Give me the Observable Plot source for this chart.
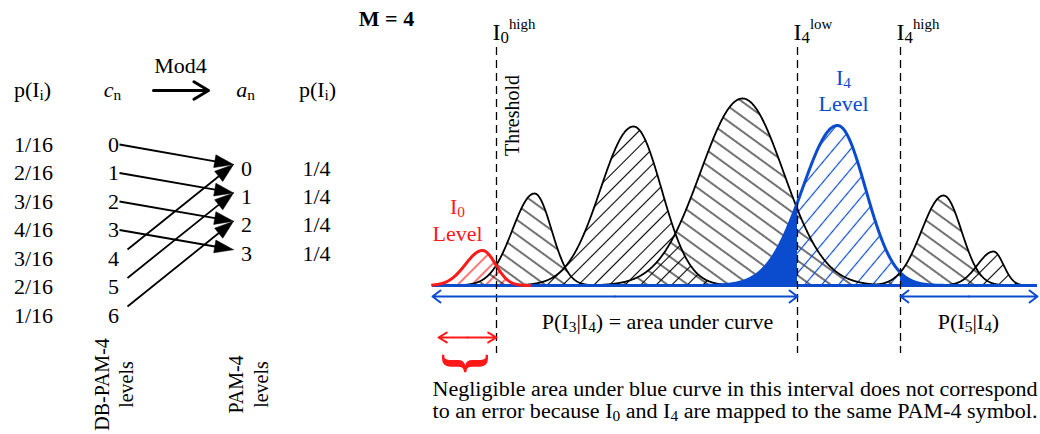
<!DOCTYPE html>
<html>
<head>
<meta charset="utf-8">
<script src="https://cdn.jsdelivr.net/npm/d3@7"></script>
<script src="https://cdn.jsdelivr.net/npm/@observablehq/plot@0.6"></script>
<style>
html,body{margin:0;padding:0;background:#fff;}
#chart{width:1040px;height:434px;overflow:hidden;}
#chart svg text{font-family:"Liberation Serif","Times New Roman",serif;}
</style>
</head>
<body>
<div id="chart"></div>
<script>
// ---------------- data ----------------
const dbLevels = [0, 1, 2, 3, 4, 5, 6];
const dbProb = ["1/16", "2/16", "3/16", "4/16", "3/16", "2/16", "1/16"];
const pamLevels = [0, 1, 2, 3];
const pamProb = ["1/4", "1/4", "1/4", "1/4"];
const levelNames = ["I0", "I1", "I2", "I3", "I4", "I5", "I6"];
// received-signal distributions on the signal axis (split Gaussians)
const levelMean = [482, 534, 633, 742, 837, 943, 993];
const levelPeak = [35, 92, 159, 187, 160, 90, 34];
const sigmaLeft = [17, 22, 33, 42, 35, 22, 16];
const sigmaRight = [13, 17, 28, 41, 28, 18, 10];
const thresholdNames = ["I_{0}^{high}", "I_{4}^{low}", "I_{4}^{high}"];
const thresholdPos = [496, 797, 900];
const captionLines = [
  "Negligible area under blue curve in this interval does not correspond",
  "to an error because I_{0} and I_{4} are mapped to the same PAM-4 symbol."
];

// ---------------- layout / style ----------------
const BLUE = "#0b4ccf", RED = "#ff1a1a";
const FONT = "Liberation Serif";
const X0 = 432, X1 = 1037, BASE = 285;
const rowC = i => 144 + 28.5 * i;
const rowA = j => 168 + 28.4 * j;

const dens = (k, x) => {
  const s = x < levelMean[k] ? sigmaLeft[k] : sigmaRight[k];
  return levelPeak[k] * Math.exp(-0.5 * ((x - levelMean[k]) / s) ** 2);
};
const samples = levelNames.flatMap((n, k) => {
  const lo = Math.max(X0, Math.round(levelMean[k] - 3.8 * sigmaLeft[k]));
  const hi = Math.min(X1, Math.round(levelMean[k] + 3.8 * sigmaRight[k]));
  return d3.range(lo, hi + 0.25, 0.5).map(x => ({k, x, h: dens(k, x)}));
});
const patFor = k => k === 0 ? "hRed" : k === 4 ? "hBlue" : (k % 2 ? "hBack" : "hFwd");

const hatchMarks = levelNames.map((n, k) =>
  Plot.areaY(samples.filter(d => d.k === k), {x: "x", y1: BASE, y2: d => BASE - d.h, fill: `url(#${patFor(k)})`})
);

const blueSpans = [[X0, thresholdPos[1]], [thresholdPos[2], X1]];
const blueArrowParts = blueSpans.flatMap(([a, b]) => [{from: (a + b) / 2, to: a}, {from: (a + b) / 2, to: b}]);
const redSpan = [438, thresholdPos[0]];
const redArrowParts = [{from: (redSpan[0] + redSpan[1]) / 2, to: redSpan[0]}, {from: (redSpan[0] + redSpan[1]) / 2, to: redSpan[1]}];

// mapping arrows c_n -> a_n = c_n mod 4, with filled triangular heads
const mapArrows = dbLevels.map(d => {
  const x1 = d < 4 ? 119 : 127, y1 = d < 4 ? rowC(d) : rowC(d) - 9;
  const x2 = 233, y2 = rowA(d % 4) - 4;
  return {d, x1, y1, x2, y2};
});
const HL = 19, HW = 6.5;
const mapHeads = mapArrows.flatMap(a => {
  const L = Math.hypot(a.x2 - a.x1, a.y2 - a.y1), ux = (a.x2 - a.x1) / L, uy = (a.y2 - a.y1) / L;
  const bx = a.x2 - ux * HL, by = a.y2 - uy * HL;
  return [
    {d: a.d, x: a.x2, y: a.y2},
    {d: a.d, x: bx - uy * HW, y: by + ux * HW},
    {d: a.d, x: bx + uy * HW, y: by - ux * HW},
    {d: a.d, x: a.x2, y: a.y2}
  ];
});

const tx = (data, o) => Plot.text(data, {text: d => d, fontFamily: FONT, ...o});

const svg = Plot.plot({
  width: 1040, height: 434, margin: 0,
  x: {domain: [0, 1040], range: [0, 1040], axis: null},
  y: {domain: [0, 434], range: [0, 434], axis: null},
  style: "font-family: 'Liberation Serif', serif; background: white; color: black;",
  marks: [
    ...hatchMarks,
    Plot.areaY(samples.filter(d => d.k === 4 && d.x <= thresholdPos[1]), {x: "x", y1: BASE, y2: d => BASE - d.h, fill: BLUE}),
    Plot.areaY(samples.filter(d => d.k === 4 && d.x >= thresholdPos[2]), {x: "x", y1: BASE, y2: d => BASE - d.h, fill: BLUE}),
    Plot.line(samples.filter(d => d.k !== 0 && d.k !== 4), {x: "x", y: d => BASE - d.h, z: "k", stroke: "black", strokeWidth: 1.8}),
    Plot.line(samples.filter(d => d.k === 4), {x: "x", y: d => BASE - d.h, stroke: BLUE, strokeWidth: 3}),
    Plot.ruleY([BASE], {x1: X0, x2: X1, stroke: BLUE, strokeWidth: 3}),
    Plot.line(samples.filter(d => d.k === 0 && d.x < 530), {x: "x", y: d => BASE - d.h, stroke: RED, strokeWidth: 3}),
    Plot.ruleX(thresholdPos, {y1: 47, y2: 353, stroke: "black", strokeWidth: 1.3, strokeDasharray: "8,5"}),
    Plot.arrow(blueArrowParts, {x1: "from", x2: "to", y1: 296, y2: 296, stroke: BLUE, strokeWidth: 2, headLength: 7.5, headAngle: 74}),
    Plot.arrow(redArrowParts, {x1: "from", x2: "to", y1: 337, y2: 337, stroke: RED, strokeWidth: 2, headLength: 9, headAngle: 62}),
    tx(["}"], {x: 467, y: 363, rotate: 90, fontSize: 54, fontWeight: "bold", fill: RED}),
    // labels on the right
    tx(thresholdNames, {x: (d, i) => thresholdPos[i] - 4, y: 39, textAnchor: "start", lineAnchor: "bottom", fontSize: 24}),
    tx(["Threshold"], {x: 518, y: 115, rotate: -90, lineAnchor: "bottom", fontSize: 20}),
    tx(["M = 4"], {x: 386, y: 25, lineAnchor: "bottom", fontSize: 22, fontWeight: "bold"}),
    tx(["I_{0}", "Level"], {x: 457, y: (d, i) => [213, 240][i], lineAnchor: "bottom", fontSize: 22, fill: RED}),
    tx(["I_{4}", "Level"], {x: 843, y: (d, i) => [84, 110][i], lineAnchor: "bottom", fontSize: 22, fill: BLUE}),
    tx(["P(I_{3}|I_{4}) = area under curve"], {x: 657, y: 328, lineAnchor: "bottom", fontSize: 22}),
    tx(["P(I_{5}|I_{4})"], {x: 968, y: 328, lineAnchor: "bottom", fontSize: 22}),
    tx(captionLines, {x: X0, y: (d, i) => 395 + 22 * i, textAnchor: "start", lineAnchor: "bottom", fontSize: 20}),
    // left mapping table
    tx(["p(I_{i})"], {x: 32, y: 96, lineAnchor: "bottom", fontSize: 22}),
    tx(["c_{n}"], {x: 112, y: 96, lineAnchor: "bottom", fontSize: 22, fontStyle: "italic"}),
    tx(["Mod4"], {x: 180, y: 72, lineAnchor: "bottom", fontSize: 22}),
    Plot.arrow([0], {x1: 153, x2: 208, y1: 90, y2: 90, stroke: "black", strokeWidth: 3, headLength: 8.5, headAngle: 62}),
    tx(["a_{n}"], {x: 245, y: 96, lineAnchor: "bottom", fontSize: 22, fontStyle: "italic"}),
    tx(["p(I_{i})"], {x: 317, y: 96, lineAnchor: "bottom", fontSize: 22}),
    tx(dbProb, {x: 33, y: (d, i) => rowC(i), fontSize: 22}),
    tx(dbLevels, {x: 113, y: (d, i) => rowC(i), text: d => String(d), fontSize: 22}),
    tx(pamLevels, {x: 246, y: (d, i) => rowA(i), text: d => String(d), fontSize: 22}),
    tx(pamProb, {x: 316, y: (d, i) => rowA(i), fontSize: 22}),
    Plot.link(mapArrows, {x1: "x1", y1: "y1", x2: d => d.x2 - (d.x2 - d.x1) * 10 / Math.hypot(d.x2 - d.x1, d.y2 - d.y1), y2: d => d.y2 - (d.y2 - d.y1) * 10 / Math.hypot(d.x2 - d.x1, d.y2 - d.y1), stroke: "black", strokeWidth: 1.8}),
    Plot.line(mapHeads, {x: "x", y: "y", z: "d", fill: "black", stroke: "black", strokeWidth: 0.5}),
    tx(["DB-PAM-4", "levels"], {x: (d, i) => [108, 132][i], y: 384, rotate: -90, lineAnchor: "bottom", fontSize: 20}),
    tx(["PAM-4", "levels"], {x: (d, i) => [242, 267][i], y: 384, rotate: -90, lineAnchor: "bottom", fontSize: 20})
  ]
});

document.getElementById("chart").appendChild(svg);

// ---- SVG defs: hatch patterns ----
const defs = d3.select(svg).insert("defs", ":first-child");
function hatch(id, color, angle, gap, width) {
  const p = defs.append("pattern").attr("id", id).attr("patternUnits", "userSpaceOnUse")
    .attr("width", gap).attr("height", gap).attr("patternTransform", `rotate(${angle})`);
  p.append("line").attr("x1", -1).attr("y1", gap / 2).attr("x2", gap + 1).attr("y2", gap / 2)
    .attr("stroke", color).attr("stroke-width", width);
}
hatch("hBack", "#000", 36, 12, 1.1);
hatch("hFwd", "#000", -45, 11, 1.1);
hatch("hBlue", BLUE, -50, 13, 1.2);
hatch("hRed", RED, -45, 10, 1.2);

// ---- sub/superscripts as tspans ----
function richify(root) {
  const NS = "http://www.w3.org/2000/svg";
  const els = Array.from(root.querySelectorAll("text, tspan"))
    .filter(el => el.children.length === 0 && /[_^]\{/.test(el.textContent));
  for (const el of els) {
    const s = el.textContent;
    const fs = parseFloat(getComputedStyle(el).fontSize) || 16;
    el.textContent = "";
    let shift = 0, last = 0, m;
    const re = /([_^])\{([^}]*)\}/g;
    const add = (txt, target, scale) => {
      const t = document.createElementNS(NS, "tspan");
      const dy = target - shift;
      if (Math.abs(dy) > 1e-6) t.setAttribute("dy", dy.toFixed(2));
      if (scale) { t.setAttribute("font-size", (fs * scale).toFixed(2)); t.setAttribute("font-style", "normal"); }
      t.textContent = txt;
      el.appendChild(t);
      shift = target;
    };
    while ((m = re.exec(s))) {
      if (m.index > last) add(s.slice(last, m.index), 0);
      if (m[1] === "_") add(m[2], fs * 0.15, 0.7); else add(m[2], -fs * 0.42, 0.62);
      last = re.lastIndex;
    }
    if (last < s.length) add(s.slice(last), 0);
  }
}
richify(svg);
svg.querySelectorAll("text").forEach(t => {
  const s = t.textContent;
  if (s.startsWith("Negligible") || s.startsWith("to an error")) {
    t.setAttribute("textLength", 605);
    t.setAttribute("lengthAdjust", "spacingAndGlyphs");
  }
});
</script>
</body>
</html>
